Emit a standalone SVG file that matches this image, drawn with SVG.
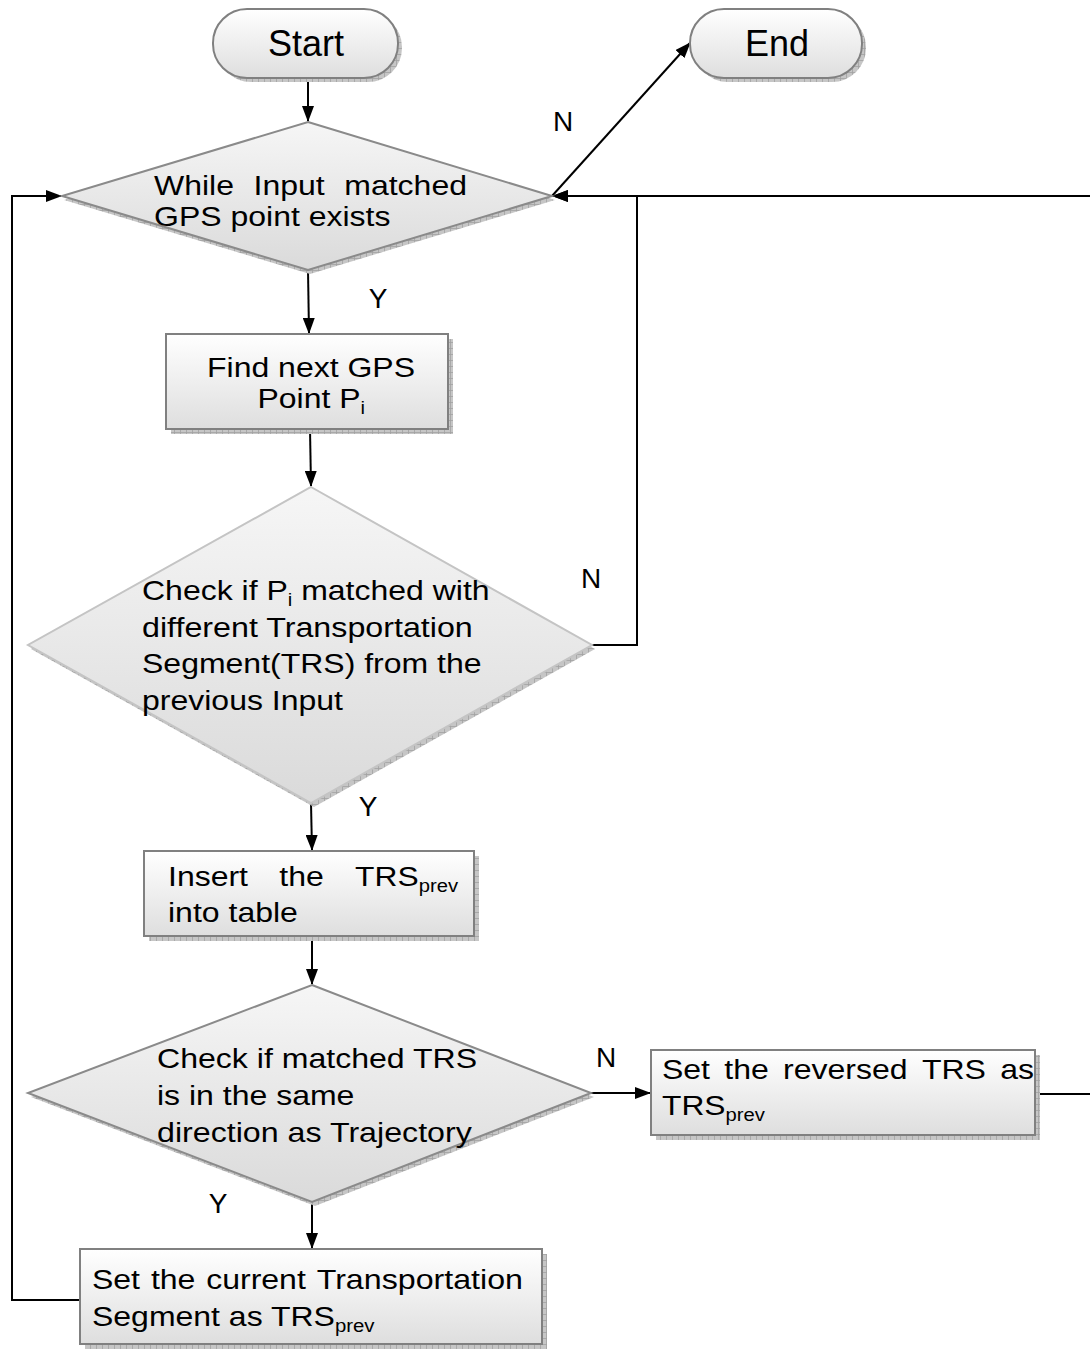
<svg xmlns="http://www.w3.org/2000/svg" width="1090" height="1352" viewBox="0 0 1090 1352">
<defs>
  <linearGradient id="gFill" x1="0" y1="0" x2="0" y2="1">
    <stop offset="0" stop-color="#ffffff"/>
    <stop offset="1" stop-color="#dedede"/>
  </linearGradient>
  <linearGradient id="gDia" x1="0" y1="0" x2="0" y2="1">
    <stop offset="0" stop-color="#f6f6f6"/>
    <stop offset="1" stop-color="#dadada"/>
  </linearGradient>
  <pattern id="hatch" width="6" height="6" patternUnits="userSpaceOnUse">
    <rect width="6" height="6" fill="#c6c6c6"/>
    <path d="M0 0.5H6M0.5 0V6" stroke="#a2a2a2" stroke-width="0.8"/>
  </pattern>
  <marker id="arr" markerWidth="16" markerHeight="12" refX="15" refY="6" orient="auto" markerUnits="userSpaceOnUse">
    <path d="M0 0L16 6L0 12z" fill="#000"/>
  </marker>
  <style>
    .shadow{fill:url(#hatch);stroke:none}
    .box{fill:url(#gFill);stroke:#808080;stroke-width:2}
    .dia{fill:url(#gDia);stroke:#8a8a8a;stroke-width:2}
    .t{font-family:"Liberation Sans",Arial,sans-serif;font-size:27.5px;fill:#000}
    .term{font-family:"Liberation Sans",Arial,sans-serif;font-size:36px;fill:#000;text-anchor:middle}
    .lbl{font-family:"Liberation Sans",Arial,sans-serif;font-size:28px;fill:#000;text-anchor:middle}
    .sub{font-size:17.5px}
    .c{fill:none;stroke:#000;stroke-width:2}
    .ca{fill:none;stroke:#000;stroke-width:2;marker-end:url(#arr)}
  </style>
</defs>
<rect width="1090" height="1352" fill="#fff"/>

<g id="connectors">
  <line class="ca" x1="308" y1="78" x2="308" y2="121"/>
  <line class="ca" x1="308" y1="270" x2="309" y2="333"/>
  <line class="ca" x1="310" y1="429" x2="311" y2="486"/>
  <line class="ca" x1="311" y1="803" x2="312" y2="850"/>
  <line class="ca" x1="312" y1="936" x2="312" y2="984"/>
  <line class="ca" x1="312" y1="1202" x2="312" y2="1248"/>
  <line class="ca" x1="591" y1="1093" x2="650" y2="1093"/>
  <line class="ca" x1="552" y1="196" x2="690" y2="43"/>
  <polyline class="ca" points="592,645 637,645 637,196 553,196"/>
  <polyline class="ca" points="1035,1094 1100,1094 1100,196 553,196"/>
  <polyline class="ca" points="80,1300 12,1300 12,196 61,196"/>
</g>

<g id="start">
  <rect class="shadow" x="217" y="13" width="185" height="69" rx="34"/>
  <rect class="box" x="213" y="9" width="185" height="69" rx="34"/>
  <text class="term" x="306" y="56">Start</text>
</g>

<g id="end">
  <rect class="shadow" x="694" y="13" width="172" height="69" rx="34"/>
  <rect class="box" x="690" y="9" width="172" height="69" rx="34"/>
  <text class="term" x="777" y="56">End</text>
</g>

<g id="while">
  <polygon class="shadow" points="310,126 555,200 310,274 64,200"/>
  <polygon class="dia" points="308,122 552,196 308,270 62,196"/>
  <text class="t" x="154" y="195" textLength="80" lengthAdjust="spacingAndGlyphs">While</text>
  <text class="t" x="253.5" y="195" textLength="71.2" lengthAdjust="spacingAndGlyphs">Input</text>
  <text class="t" x="344.3" y="195" textLength="122.7" lengthAdjust="spacingAndGlyphs">matched</text>
  <text class="t" x="154" y="226" textLength="236.5" lengthAdjust="spacingAndGlyphs">GPS point exists</text>
</g>

<g id="find">
  <rect class="shadow" x="171" y="339" width="282" height="95"/>
  <rect class="box" x="166" y="334" width="282" height="95"/>
  <text class="t" x="207" y="377" textLength="208" lengthAdjust="spacingAndGlyphs">Find next GPS</text>
  <text class="t" x="257.5" y="408" textLength="107.5" lengthAdjust="spacingAndGlyphs">Point P<tspan class="sub" dy="6">i</tspan></text>
</g>

<g id="check-pi">
  <polygon class="shadow" points="314,491 595,649 314,807 31,649"/>
  <polygon class="dia" points="311,487 592,645 311,803 28,645" style="stroke:#c4c4c4"/>
  <text class="t" x="142" y="600" textLength="347.6" lengthAdjust="spacingAndGlyphs">Check if P<tspan class="sub" dy="6">i</tspan><tspan dy="-6"> matched with</tspan></text>
  <text class="t" x="142" y="637" textLength="330.8" lengthAdjust="spacingAndGlyphs">different Transportation</text>
  <text class="t" x="142" y="673" textLength="339.6" lengthAdjust="spacingAndGlyphs">Segment(TRS) from the</text>
  <text class="t" x="142" y="710" textLength="201" lengthAdjust="spacingAndGlyphs">previous Input</text>
</g>

<g id="insert">
  <rect class="shadow" x="149" y="856" width="330" height="85"/>
  <rect class="box" x="144" y="851" width="330" height="85"/>
  <text class="t" x="168" y="886" textLength="80" lengthAdjust="spacingAndGlyphs">Insert</text>
  <text class="t" x="279.3" y="886" textLength="44.5" lengthAdjust="spacingAndGlyphs">the</text>
  <text class="t" x="355.1" y="886" textLength="102.9" lengthAdjust="spacingAndGlyphs">TRS<tspan class="sub" dy="6">prev</tspan></text>
  <text class="t" x="168" y="922" textLength="129.9" lengthAdjust="spacingAndGlyphs">into table</text>
</g>

<g id="check-dir">
  <polygon class="shadow" points="315,989 594,1097 315,1206 31,1097"/>
  <polygon class="dia" points="312,985 591,1093 312,1202 28,1093"/>
  <text class="t" x="157" y="1068" textLength="320.1" lengthAdjust="spacingAndGlyphs">Check if matched TRS</text>
  <text class="t" x="157" y="1105" textLength="197.4" lengthAdjust="spacingAndGlyphs">is in the same</text>
  <text class="t" x="157" y="1142" textLength="314.8" lengthAdjust="spacingAndGlyphs">direction as Trajectory</text>
</g>

<g id="reverse">
  <rect class="shadow" x="656" y="1055" width="384" height="85"/>
  <rect class="box" x="651" y="1050" width="384" height="85"/>
  <text class="t" x="662" y="1079" textLength="48" lengthAdjust="spacingAndGlyphs">Set</text>
  <text class="t" x="724.3" y="1079" textLength="44.5" lengthAdjust="spacingAndGlyphs">the</text>
  <text class="t" x="783.1" y="1079" textLength="124.5" lengthAdjust="spacingAndGlyphs">reversed</text>
  <text class="t" x="921.9" y="1079" textLength="64" lengthAdjust="spacingAndGlyphs">TRS</text>
  <text class="t" x="1000.2" y="1079" textLength="33.8" lengthAdjust="spacingAndGlyphs">as</text>
  <text class="t" x="662" y="1115" textLength="102.9" lengthAdjust="spacingAndGlyphs">TRS<tspan class="sub" dy="6">prev</tspan></text>
</g>

<g id="set-current">
  <rect class="shadow" x="85" y="1254" width="462" height="95"/>
  <rect class="box" x="80" y="1249" width="462" height="95"/>
  <text class="t" x="92" y="1289" textLength="48" lengthAdjust="spacingAndGlyphs">Set</text>
  <text class="t" x="150.9" y="1289" textLength="44.5" lengthAdjust="spacingAndGlyphs">the</text>
  <text class="t" x="206.2" y="1289" textLength="99.6" lengthAdjust="spacingAndGlyphs">current</text>
  <text class="t" x="316.7" y="1289" textLength="206.3" lengthAdjust="spacingAndGlyphs">Transportation</text>
  <text class="t" x="92" y="1326" textLength="282.5" lengthAdjust="spacingAndGlyphs">Segment as TRS<tspan class="sub" dy="6">prev</tspan></text>
</g>

<g id="labels">
  <text class="lbl" x="563" y="131">N</text>
  <text class="lbl" x="378" y="308">Y</text>
  <text class="lbl" x="591" y="588">N</text>
  <text class="lbl" x="368" y="816">Y</text>
  <text class="lbl" x="606" y="1067">N</text>
  <text class="lbl" x="218" y="1213">Y</text>
</g>
</svg>
